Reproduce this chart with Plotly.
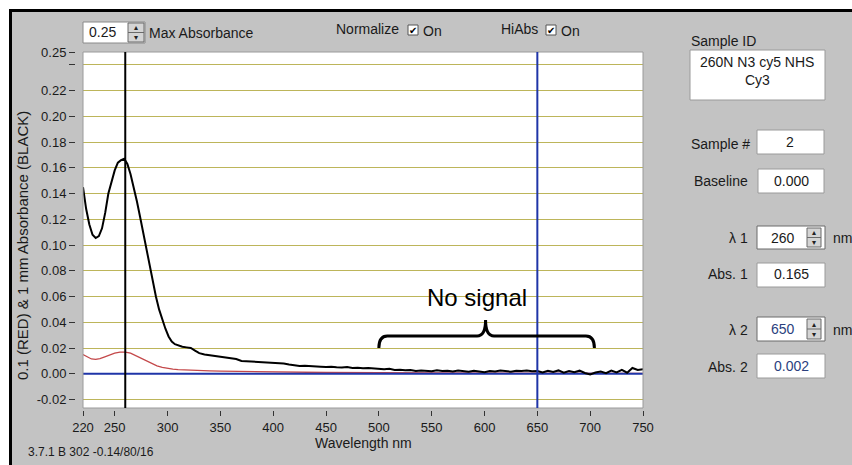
import plotly.graph_objects as go

# ---------------- data ----------------
wl_black = [220, 223, 226, 229, 232, 235, 238, 241, 244, 247, 250, 253, 256, 259, 262, 265, 268, 271,
            274, 277, 280, 283, 286, 289, 292, 295, 298, 301, 304, 307, 310, 314, 318, 322, 326, 330,
            335, 340, 345, 350, 355, 360, 365, 370, 375, 380, 385, 390, 395, 400, 405, 410, 415, 420,
            425, 430, 435, 440, 445, 450, 455, 460, 465, 470, 475, 480, 485, 490, 495, 500, 505, 510,
            515, 520, 525, 530, 535, 540, 545, 550, 555, 560, 565, 570, 575, 580, 585, 590, 595, 600,
            605, 610, 615, 620, 625, 630, 635, 640, 645, 650, 655, 660, 665, 670, 675, 680, 685, 690,
            695, 700, 705, 710, 715, 720, 725, 730, 735, 740, 745, 750]
abs_black = [0.145, 0.128, 0.116, 0.108, 0.1055, 0.107, 0.113, 0.125, 0.140, 0.150, 0.158, 0.164, 0.166,
             0.167, 0.163, 0.155, 0.145, 0.134, 0.122, 0.109, 0.096, 0.083, 0.071, 0.060, 0.050, 0.042,
             0.035, 0.029, 0.025, 0.023, 0.022, 0.021, 0.0205, 0.020, 0.018, 0.016, 0.015, 0.0145, 0.014,
             0.013, 0.0125, 0.012, 0.0115, 0.010, 0.0098, 0.0092, 0.0090, 0.0088, 0.0086, 0.0085, 0.0083,
             0.0080, 0.0072, 0.0065, 0.0060, 0.0062, 0.0058, 0.0056, 0.0054, 0.0052, 0.0055, 0.0050,
             0.0048, 0.0052, 0.0045, 0.0047, 0.0042, 0.0044, 0.0040, 0.0038, 0.0035, 0.0038, 0.0030,
             0.0032, 0.0028, 0.0030, 0.0022, 0.0026, 0.0024, 0.0020, 0.0028, 0.0022, 0.0024, 0.0018,
             0.0025, 0.0022, 0.0015, 0.0024, 0.0020, 0.0012, 0.0022, 0.0018, 0.0025, 0.0020, 0.0016,
             0.0024, 0.0021, 0.0026, 0.0020, 0.0022, 0.0010, 0.0024, 0.0014, 0.0026, 0.0008, 0.0022,
             0.0012, 0.0024, 0.0006, -0.0005, 0.0010, 0.0018, 0.0004, 0.0025, 0.0010, 0.0030, 0.0008,
             0.0045, 0.0030, 0.0035]

wl_red = [220, 224, 228, 232, 236, 240, 245, 250, 255, 260, 265, 270, 275, 280, 285, 290, 295, 300,
          305, 310, 320, 330, 340, 350, 370, 390, 420, 450, 500, 550, 600, 650, 700, 750]
abs_red = [0.015, 0.013, 0.0115, 0.0112, 0.0118, 0.013, 0.0148, 0.016, 0.0168, 0.0168, 0.016, 0.014,
           0.012, 0.0098, 0.0078, 0.0062, 0.005, 0.0042, 0.0036, 0.0032, 0.0027, 0.0024, 0.0022,
           0.0020, 0.0017, 0.0015, 0.0012, 0.0010, 0.0008, 0.0006, 0.0005, 0.0004, 0.0003, 0.0003]

wl_baseline = [220, 750]
abs_baseline = [0.0, 0.0]

lambda1 = 260
lambda2 = 650

x_ticks = [220, 250, 300, 350, 400, 450, 500, 550, 600, 650, 700, 750]
y_ticks = [-0.02, 0.0, 0.02, 0.04, 0.06, 0.08, 0.10, 0.12, 0.14, 0.16, 0.18, 0.20, 0.22, 0.24, 0.25]
y_ticktext = ["-0.02", "0.00", "0.02", "0.04", "0.06", "0.08", "0.10", "0.12", "0.14", "0.16",
              "0.18", "0.20", "0.22", "", "0.25"]

brace_x0, brace_xm, brace_x1 = 500, 601, 704
brace_end_y, brace_bar_y, brace_tip_y = 0.020, 0.0294, 0.0418

# ---------------- layout helpers ----------------
FONT = "Arial, Liberation Sans, sans-serif"
L, T, Wd, Ht = 75, 52, 568, 358
GRAY = "#c3c3c3"


def px(x):
    return (x - L) / Wd


def py(y):
    return 1 - (y - T) / Ht


shapes = []
annots = []


def rect(x0, y0, x1, y1, fill, line="#9a9a9a", lw=1):
    shapes.append(dict(type="rect", xref="paper", yref="paper", x0=px(x0), x1=px(x1),
                       y0=py(y1), y1=py(y0), fillcolor=fill, line=dict(color=line, width=lw),
                       layer="above"))


def line(x0, y0, x1, y1, color, lw):
    shapes.append(dict(type="line", xref="paper", yref="paper", x0=px(x0), x1=px(x1),
                       y0=py(y0), y1=py(y1), line=dict(color=color, width=lw), layer="above"))


def text(x, y, s, size=14, color="#1a1a1a", xanchor="left", yanchor="middle", angle=0):
    annots.append(dict(xref="paper", yref="paper", x=px(x), y=py(y), text=s, showarrow=False,
                       xanchor=xanchor, yanchor=yanchor, textangle=angle,
                       font=dict(family=FONT, size=size, color=color)))


def spinner(x0, y0, x1, y1):
    rect(x0, y0, x1, y1, "#d4d4d4", "#6a6a6a", 1)
    ym = (y0 + y1) / 2
    line(x0, ym, x1, ym, "#6a6a6a", 1)
    text((x0 + x1) / 2, (y0 + ym) / 2, "▴", size=8, color="#222", xanchor="center")
    text((x0 + x1) / 2, (ym + y1) / 2, "▾", size=8, color="#222", xanchor="center")


def checkbox(x0, y0, x1, y1):
    rect(x0, y0, x1, y1, "white", "#555", 1)
    text((x0 + x1) / 2, (y0 + y1) / 2 + 1, "✔", size=10, color="#000", xanchor="center")


# window frame: white strip top/left and black border
rect(-5, -5, 860, 9, "white", "white", 0)
rect(-5, -5, 9, 470, "white", "white", 0)
line(9, 10.5, 860, 10.5, "#000", 3)
line(10.5, 9, 10.5, 470, "#000", 3)

# plot border
rect(83, 52, 643, 408, "rgba(0,0,0,0)", "#9a9a9a", 1)

# top controls
rect(83, 22, 145, 43, "white", "#8a8a8a", 1)
text(118, 32.5, "0.25", size=14, xanchor="right")
spinner(128, 23, 144, 42)
text(147, 33, "Max Absorbance", size=14)
text(334, 29, "Normalize", size=14)
checkbox(408, 25, 418, 35)
text(421, 31, "On", size=14)
text(499, 29, "HiAbs", size=14)
checkbox(546, 25, 556, 35)
text(559, 31, "On", size=14)

# right panel
text(689, 41, "Sample ID", size=14)
rect(690, 50, 825, 100, "white")
text(757, 62, "260N N3 cy5 NHS", size=14, xanchor="center")
text(757, 80, "Cy3", size=14, xanchor="center")

text(752, 144, "Sample #", size=14, xanchor="right")
rect(757, 130, 824, 154, "white")
text(790, 142, "2", size=14, xanchor="center")

text(750, 181, "Baseline", size=14, xanchor="right")
rect(758, 169, 824, 193, "white")
text(791, 181, "0.000", size=14, xanchor="center")

text(750, 238, "λ 1", size=14, xanchor="right")
rect(757, 226, 825, 249, "white", "#6a6a6a", 1)
text(783, 237.5, "260", size=14, xanchor="center")
spinner(807, 228, 821, 247)
text(831, 238, "nm", size=14)

text(750, 274, "Abs. 1", size=14, xanchor="right")
rect(757, 263, 825, 287, "white")
text(791, 274, "0.165", size=14, xanchor="center")

text(750, 330, "λ 2", size=14, xanchor="right")
rect(757, 317, 825, 341, "white", "#6a6a6a", 1)
text(783, 328.5, "650", size=14, color="#2b3f7e", xanchor="center")
spinner(807, 319, 821, 339)
text(831, 330, "nm", size=14)

text(750, 367, "Abs. 2", size=14, xanchor="right")
rect(757, 354, 825, 378, "white")
text(791, 366, "0.002", size=14, color="#2b3f7e", xanchor="center")

# axis titles and footer
text(363, 443, "Wavelength nm", size=14, xanchor="center")
text(22, 246, "0.1 (RED) & 1 mm Absorbance (BLACK)", size=15, xanchor="center", angle=-90)
text(26, 452, "3.7.1 B 302 -0.14/80/16", size=12)

# cursor lines (data x)
shapes.append(dict(type="line", xref="x", yref="y domain", x0=lambda1, x1=lambda1, y0=0, y1=1,
                   line=dict(color="#000000", width=2), layer="above"))
shapes.append(dict(type="line", xref="x", yref="y domain", x0=lambda2, x1=lambda2, y0=0, y1=1,
                   line=dict(color="#1f35a8", width=2), layer="above"))

# brace annotation
bx0, bxm, bx1 = brace_x0, brace_xm, brace_x1
yb, ye, yt = brace_bar_y, brace_end_y, brace_tip_y
path = (f"M {bx0},{ye} Q {bx0},{yb} {bx0+8},{yb} L {bxm-8},{yb} Q {bxm},{yb} {bxm},{yt} "
        f"Q {bxm},{yb} {bxm+8},{yb} L {bx1-8},{yb} Q {bx1},{yb} {bx1},{ye}")
shapes.append(dict(type="path", xref="x", yref="y", path=path,
                   line=dict(color="#000000", width=3), layer="above"))
annots.append(dict(xref="x", yref="y", x=593, y=0.0595, text="No signal", showarrow=False,
                   xanchor="center", yanchor="middle",
                   font=dict(family=FONT, size=24, color="#000")))

# ---------------- figure ----------------
fig = go.Figure()
fig.add_trace(go.Scatter(x=wl_red, y=abs_red, mode="lines", line=dict(color="#c4484a", width=1.3),
                         hoverinfo="skip"))
fig.add_trace(go.Scatter(x=wl_baseline, y=abs_baseline, mode="lines",
                         line=dict(color="#1f35a8", width=2), hoverinfo="skip"))
fig.add_trace(go.Scatter(x=wl_black, y=abs_black, mode="lines", line=dict(color="#000000", width=2),
                         hoverinfo="skip"))

fig.update_layout(
    width=852, height=465,
    margin=dict(l=L, r=852 - L - Wd, t=T, b=465 - T - Ht),
    paper_bgcolor=GRAY, plot_bgcolor="white",
    showlegend=False,
    shapes=shapes, annotations=annots,
    font=dict(family=FONT, size=13, color="#1a1a1a"),
    xaxis=dict(domain=[8 / Wd, 1], range=[220, 750], anchor="free", position=0,
               tickvals=x_ticks, ticks="outside", ticklen=5, tickcolor="#333", showgrid=False,
               zeroline=False, showline=False, tickfont=dict(size=13)),
    yaxis=dict(domain=[2 / Ht, 1], range=[-0.0266, 0.25], anchor="free", position=0,
               tickvals=y_ticks, ticktext=y_ticktext, ticks="outside", ticklen=6, tickcolor="#333",
               showgrid=True, gridcolor="#bdb55a", gridwidth=1, zeroline=False, showline=False,
               tickfont=dict(size=13)),
)

fig.write_html("out.html")
